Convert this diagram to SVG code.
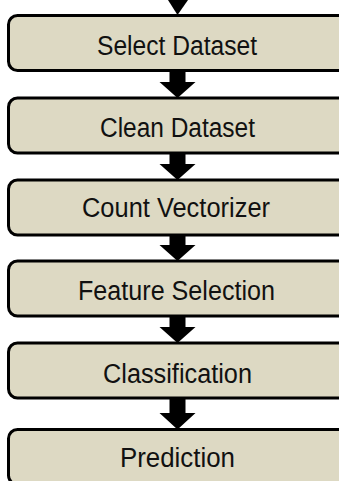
<svg xmlns="http://www.w3.org/2000/svg" width="339" height="481" viewBox="0 0 339 481">
<style>
.box{fill:#DDD9C3;stroke:#000;stroke-width:3}
.lbl{font-family:"Liberation Sans",Arial,sans-serif;font-size:27px;fill:#111;text-anchor:middle}
.arr{fill:#000}
</style>
<rect width="339" height="481" fill="#fff"/>
<g id="connectors">
<polygon class="arr" points="168,0 188,0 177.5,15"/>
<polygon class="arr" points="169.5,70 185.5,70 185.5,82 195.5,82 177.5,98 159.5,82 169.5,82"/>
<polygon class="arr" points="169.5,153 185.5,153 185.5,164 195.5,164 177.5,180 159.5,164 169.5,164"/>
<polygon class="arr" points="169.5,235 185.5,235 185.5,245 195.5,245 177.5,261 159.5,245 169.5,245"/>
<polygon class="arr" points="169.5,316 185.5,316 185.5,327 195.5,327 177.5,343 159.5,327 169.5,327"/>
<polygon class="arr" points="169.5,398 185.5,398 185.5,413 195.5,413 177.5,429.5 159.5,413 169.5,413"/>
</g>
<g id="node1"><rect class="box" x="8.5" y="15.5" width="345" height="55" rx="9"/><text class="lbl" x="177" y="55" textLength="160" lengthAdjust="spacingAndGlyphs">Select Dataset</text></g>
<g id="node2"><rect class="box" x="8.5" y="98" width="345" height="55" rx="9"/><text class="lbl" x="177.5" y="137" textLength="155" lengthAdjust="spacingAndGlyphs">Clean Dataset</text></g>
<g id="node3"><rect class="box" x="8.5" y="180" width="345" height="55" rx="9"/><text class="lbl" x="176" y="217" textLength="188" lengthAdjust="spacingAndGlyphs">Count Vectorizer</text></g>
<g id="node4"><rect class="box" x="8.5" y="261" width="345" height="55" rx="9"/><text class="lbl" x="176.5" y="300" textLength="197" lengthAdjust="spacingAndGlyphs">Feature Selection</text></g>
<g id="node5"><rect class="box" x="8.5" y="343" width="345" height="55" rx="9"/><text class="lbl" x="177.5" y="383" textLength="149" lengthAdjust="spacingAndGlyphs">Classification</text></g>
<g id="node6"><rect class="box" x="8.5" y="429.5" width="345" height="55" rx="9"/><text class="lbl" x="177.5" y="467" textLength="115" lengthAdjust="spacingAndGlyphs">Prediction</text></g>
</svg>
